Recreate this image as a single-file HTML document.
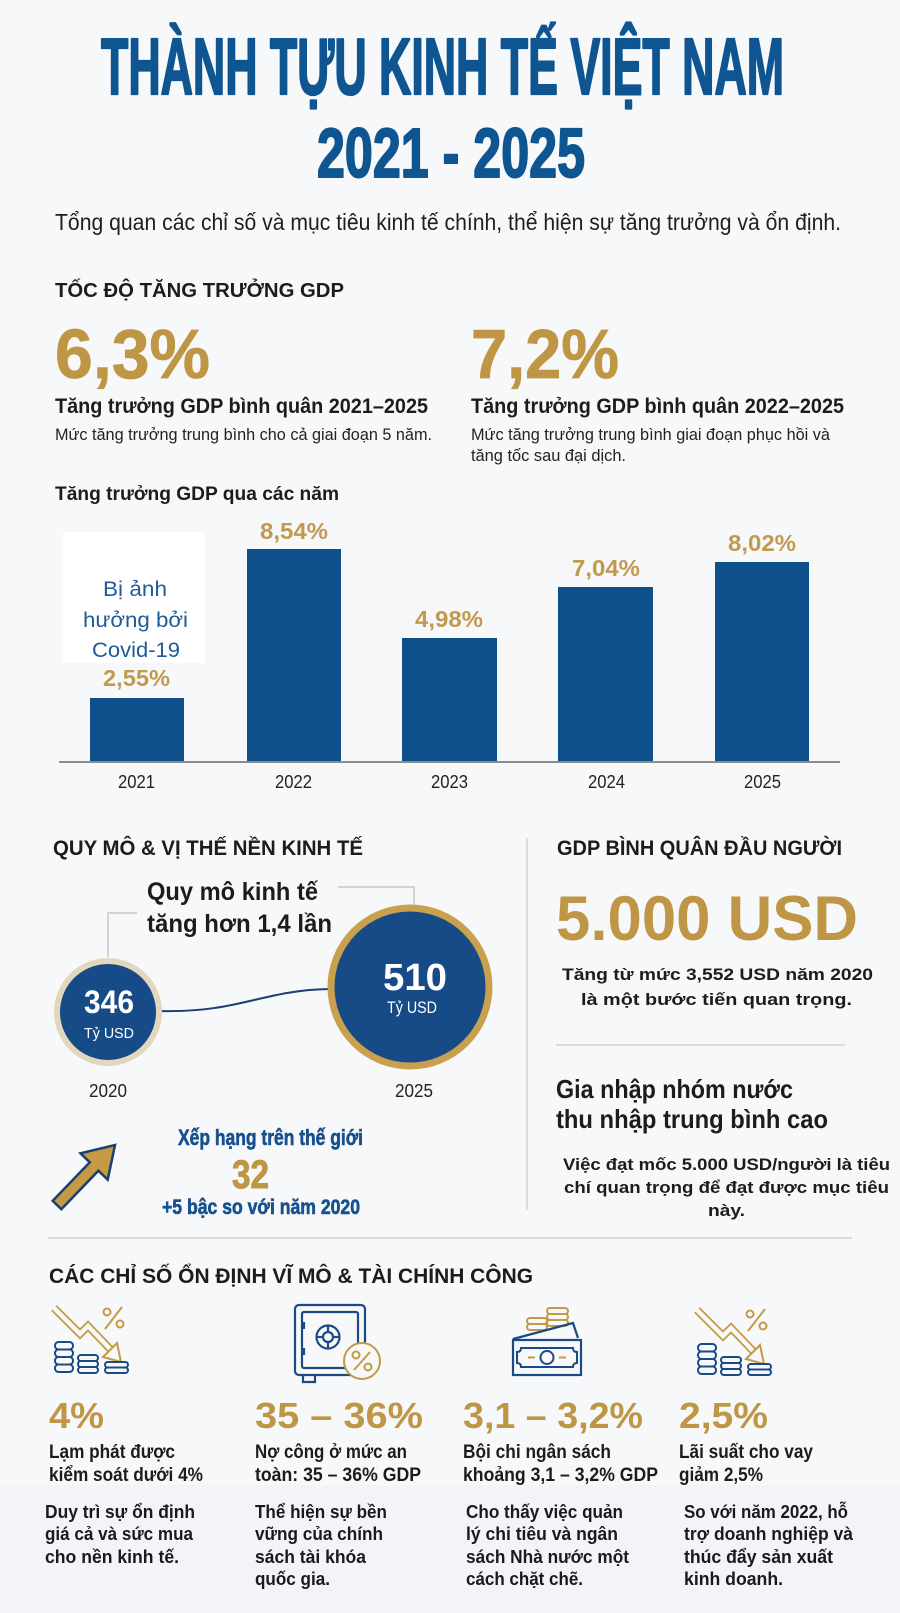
<!DOCTYPE html>
<html lang="vi">
<head>
<meta charset="utf-8">
<style>
html,body{margin:0;padding:0;background:#f7f8fa;}
body{width:900px;height:1613px;overflow:hidden;}
svg{display:block;}
text{font-family:"Liberation Sans","DejaVu Sans",sans-serif;}
</style>
</head>
<body>
<svg xmlns="http://www.w3.org/2000/svg" width="900" height="1613" viewBox="0 0 900 1613">
  <rect x="0" y="0" width="900" height="1613" fill="#f7f8fa"/>
  <rect x="0" y="1485" width="900" height="128" fill="#f2f4f8"/>

  <!-- Title -->
  <text x="101" y="94" font-size="80" font-weight="bold" fill="#0e5591" stroke="#0e5591" stroke-width="2.2" stroke-linejoin="round" textLength="683" lengthAdjust="spacingAndGlyphs">THÀNH TỰU KINH TẾ VIỆT NAM</text>
  <text x="317" y="177" font-size="70" font-weight="bold" fill="#0e5591" stroke="#0e5591" stroke-width="2" stroke-linejoin="round" textLength="268" lengthAdjust="spacingAndGlyphs">2021 - 2025</text>
  <text x="55" y="230" font-size="23" fill="#1e1e1e" textLength="786" lengthAdjust="spacingAndGlyphs">Tổng quan các chỉ số và mục tiêu kinh tế chính, thể hiện sự tăng trưởng và ổn định.</text>

  <!-- GDP growth section -->
  <text x="55" y="297" font-size="20" font-weight="bold" fill="#1c1c1c" textLength="289" lengthAdjust="spacingAndGlyphs">TỐC ĐỘ TĂNG TRƯỞNG GDP</text>
  <text x="55" y="378" font-size="70" font-weight="bold" fill="#bf9645" stroke="#bf9645" stroke-width="0.8" textLength="155" lengthAdjust="spacingAndGlyphs">6,3%</text>
  <text x="471" y="378" font-size="70" font-weight="bold" fill="#bf9645" stroke="#bf9645" stroke-width="0.8" textLength="148" lengthAdjust="spacingAndGlyphs">7,2%</text>
  <text x="55" y="413" font-size="21" font-weight="bold" fill="#1c1c1c" textLength="373" lengthAdjust="spacingAndGlyphs">Tăng trưởng GDP bình quân 2021–2025</text>
  <text x="471" y="413" font-size="21" font-weight="bold" fill="#1c1c1c" textLength="373" lengthAdjust="spacingAndGlyphs">Tăng trưởng GDP bình quân 2022–2025</text>
  <text x="55" y="440" font-size="17" fill="#222" textLength="377" lengthAdjust="spacingAndGlyphs">Mức tăng trưởng trung bình cho cả giai đoạn 5 năm.</text>
  <text x="471" y="440" font-size="17" fill="#222" textLength="359" lengthAdjust="spacingAndGlyphs">Mức tăng trưởng trung bình giai đoạn phục hồi và</text>
  <text x="471" y="461" font-size="17" fill="#222" textLength="155" lengthAdjust="spacingAndGlyphs">tăng tốc sau đại dịch.</text>

  <text x="55" y="500" font-size="19" font-weight="bold" fill="#1c1c1c" textLength="284" lengthAdjust="spacingAndGlyphs">Tăng trưởng GDP qua các năm</text>

  <!-- Chart -->
  <rect x="63" y="532" width="142" height="131" fill="#ffffff"/>
  <rect x="90" y="698" width="94" height="64" fill="#0f4f8a"/>
  <rect x="247" y="549" width="94" height="213" fill="#0f4f8a"/>
  <rect x="402" y="638" width="95" height="124" fill="#0f4f8a"/>
  <rect x="558" y="587" width="95" height="175" fill="#0f4f8a"/>
  <rect x="715" y="562" width="94" height="200" fill="#0f4f8a"/>
  <line x1="59" y1="762" x2="840" y2="762" stroke="#8c8c8c" stroke-width="2"/>

  <text x="103" y="686" font-size="23" font-weight="bold" fill="#c19a4e" textLength="67" lengthAdjust="spacingAndGlyphs">2,55%</text>
  <text x="260" y="539" font-size="23" font-weight="bold" fill="#c19a4e" textLength="68" lengthAdjust="spacingAndGlyphs">8,54%</text>
  <text x="415" y="627" font-size="23" font-weight="bold" fill="#c19a4e" textLength="68" lengthAdjust="spacingAndGlyphs">4,98%</text>
  <text x="572" y="576" font-size="23" font-weight="bold" fill="#c19a4e" textLength="68" lengthAdjust="spacingAndGlyphs">7,04%</text>
  <text x="728" y="551" font-size="23" font-weight="bold" fill="#c19a4e" textLength="68" lengthAdjust="spacingAndGlyphs">8,02%</text>

  <text x="103" y="596" font-size="21" fill="#1f5c96" textLength="64" lengthAdjust="spacingAndGlyphs">Bị ảnh</text>
  <text x="83" y="627" font-size="21" fill="#1f5c96" textLength="105" lengthAdjust="spacingAndGlyphs">hưởng bởi</text>
  <text x="92" y="657" font-size="21" fill="#1f5c96" textLength="88" lengthAdjust="spacingAndGlyphs">Covid-19</text>

  <text x="118" y="788" font-size="18" fill="#222" textLength="37" lengthAdjust="spacingAndGlyphs">2021</text>
  <text x="275" y="788" font-size="18" fill="#222" textLength="37" lengthAdjust="spacingAndGlyphs">2022</text>
  <text x="431" y="788" font-size="18" fill="#222" textLength="37" lengthAdjust="spacingAndGlyphs">2023</text>
  <text x="588" y="788" font-size="18" fill="#222" textLength="37" lengthAdjust="spacingAndGlyphs">2024</text>
  <text x="744" y="788" font-size="18" fill="#222" textLength="37" lengthAdjust="spacingAndGlyphs">2025</text>

  <!-- Scale section -->
  <text x="53" y="855" font-size="21" font-weight="bold" fill="#1c1c1c" textLength="310" lengthAdjust="spacingAndGlyphs">QUY MÔ &amp; VỊ THẾ NỀN KINH TẾ</text>
  <text x="557" y="855" font-size="21" font-weight="bold" fill="#1c1c1c" textLength="285" lengthAdjust="spacingAndGlyphs">GDP BÌNH QUÂN ĐẦU NGƯỜI</text>
  <line x1="527" y1="838" x2="527" y2="1210" stroke="#d2d4d8" stroke-width="1.5"/>

  <text x="147" y="900" font-size="25" font-weight="bold" fill="#1c1c1c" textLength="171" lengthAdjust="spacingAndGlyphs">Quy mô kinh tế</text>
  <text x="147" y="932" font-size="25" font-weight="bold" fill="#1c1c1c" textLength="185" lengthAdjust="spacingAndGlyphs">tăng hơn 1,4 lần</text>
  <polyline points="137,913 108,913 108,957" fill="none" stroke="#c8c8c8" stroke-width="1.5"/>
  <polyline points="338,887 414,887 414,905" fill="none" stroke="#c8c8c8" stroke-width="1.5"/>

  <path d="M160,1011 C240,1013 262,990 330,989" fill="none" stroke="#1b3f73" stroke-width="2"/>
  <circle cx="108" cy="1012" r="51" fill="#164b88" stroke="#e3d7bd" stroke-width="6"/>
  <text x="84" y="1013" font-size="32" font-weight="bold" fill="#ffffff" textLength="50" lengthAdjust="spacingAndGlyphs">346</text>
  <text x="84" y="1038" font-size="15" fill="#ffffff" textLength="50" lengthAdjust="spacingAndGlyphs">Tỷ USD</text>
  <circle cx="410" cy="987" r="79" fill="#164b88" stroke="#c9a04e" stroke-width="7"/>
  <text x="383" y="990" font-size="38" font-weight="bold" fill="#ffffff" textLength="64" lengthAdjust="spacingAndGlyphs">510</text>
  <text x="387" y="1013" font-size="17" fill="#ffffff" textLength="50" lengthAdjust="spacingAndGlyphs">Tỷ USD</text>
  <text x="89" y="1097" font-size="18" fill="#222" textLength="38" lengthAdjust="spacingAndGlyphs">2020</text>
  <text x="395" y="1097" font-size="18" fill="#222" textLength="38" lengthAdjust="spacingAndGlyphs">2025</text>

  <polygon points="61.3,1209.2 98.4,1170.7 107.7,1179.7 115,1145 80.5,1153.3 89.8,1162.3 52.7,1200.8" fill="#c49a45" stroke="#1c3f73" stroke-width="2.5" stroke-linejoin="miter"/>
  <text x="178" y="1145" font-size="22" font-weight="bold" fill="#17508e" stroke="#17508e" stroke-width="0.6" textLength="185" lengthAdjust="spacingAndGlyphs">Xếp hạng trên thế giới</text>
  <text x="232" y="1188" font-size="40" font-weight="bold" fill="#bf9645" stroke="#bf9645" stroke-width="1" textLength="37" lengthAdjust="spacingAndGlyphs">32</text>
  <text x="162" y="1214" font-size="21" font-weight="bold" fill="#17508e" stroke="#17508e" stroke-width="0.6" textLength="198" lengthAdjust="spacingAndGlyphs">+5 bậc so với năm 2020</text>

  <!-- GDP per capita -->
  <text x="556" y="940" font-size="63" font-weight="bold" fill="#bf9645" textLength="302" lengthAdjust="spacingAndGlyphs">5.000 USD</text>
  <text x="562" y="980" font-size="17" font-weight="bold" fill="#1c1c1c" textLength="311" lengthAdjust="spacingAndGlyphs">Tăng từ mức 3,552 USD năm 2020</text>
  <text x="581" y="1005" font-size="17" font-weight="bold" fill="#1c1c1c" textLength="271" lengthAdjust="spacingAndGlyphs">là một bước tiến quan trọng.</text>
  <line x1="556" y1="1045" x2="845" y2="1045" stroke="#cfd1d5" stroke-width="1.5"/>
  <text x="556" y="1098" font-size="26" font-weight="bold" fill="#1c1c1c" textLength="237" lengthAdjust="spacingAndGlyphs">Gia nhập nhóm nước</text>
  <text x="556" y="1128" font-size="26" font-weight="bold" fill="#1c1c1c" textLength="272" lengthAdjust="spacingAndGlyphs">thu nhập trung bình cao</text>
  <text x="563" y="1170" font-size="17" font-weight="bold" fill="#1c1c1c" textLength="327" lengthAdjust="spacingAndGlyphs">Việc đạt mốc 5.000 USD/người là tiêu</text>
  <text x="564" y="1193" font-size="17" font-weight="bold" fill="#1c1c1c" textLength="325" lengthAdjust="spacingAndGlyphs">chí quan trọng để đạt được mục tiêu</text>
  <text x="708" y="1216" font-size="17" font-weight="bold" fill="#1c1c1c" textLength="37" lengthAdjust="spacingAndGlyphs">này.</text>

  <line x1="48" y1="1238" x2="852" y2="1238" stroke="#cfd1d5" stroke-width="1.5"/>

  <!-- Macro section -->
  <text x="49" y="1283" font-size="21" font-weight="bold" fill="#1c1c1c" textLength="484" lengthAdjust="spacingAndGlyphs">CÁC CHỈ SỐ ỔN ĐỊNH VĨ MÔ &amp; TÀI CHÍNH CÔNG</text>

  <!-- Icon 1 -->
  <g>
    <path d="M54,1308 L80,1334 L88,1326 L112,1351" fill="none" stroke="#c49a45" stroke-width="8" stroke-linejoin="miter"/>
    <path d="M54,1308 L80,1334 L88,1326 L112,1351" fill="none" stroke="#f7f8fa" stroke-width="4.5" stroke-linejoin="miter"/>
    <polygon points="103,1357 121,1362 117,1343" fill="#f7f8fa" stroke="#c49a45" stroke-width="2"/>
    <circle cx="107" cy="1312" r="3.5" fill="none" stroke="#c49a45" stroke-width="2"/>
    <circle cx="120" cy="1324" r="3.5" fill="none" stroke="#c49a45" stroke-width="2"/>
    <line x1="122" y1="1307" x2="105" y2="1329" stroke="#c49a45" stroke-width="2"/>
    <g fill="#f7f8fa" stroke="#1c4a85" stroke-width="2">
      <rect x="55" y="1342" width="18" height="7.5" rx="3.5"/>
      <rect x="55" y="1349.5" width="18" height="7.5" rx="3.5"/>
      <rect x="55" y="1357" width="18" height="7.5" rx="3.5"/>
      <rect x="55" y="1364.5" width="18" height="7.5" rx="3.5"/>
      <rect x="78" y="1355" width="20" height="6" rx="3"/>
      <rect x="78" y="1361" width="20" height="6" rx="3"/>
      <rect x="78" y="1367" width="20" height="6" rx="3"/>
      <rect x="105" y="1362" width="23" height="5.5" rx="2.75"/>
      <rect x="105" y="1367.5" width="23" height="5.5" rx="2.75"/>
    </g>
  </g>

  <!-- Icon 2: safe -->
  <g fill="none" stroke="#1c4a85" stroke-width="2.2">
    <rect x="295" y="1305" width="70" height="70" rx="4"/>
    <rect x="302" y="1312" width="56" height="56" rx="2"/>
    <circle cx="328" cy="1337" r="11.5"/>
    <circle cx="328" cy="1337" r="5"/>
    <line x1="328" y1="1325.5" x2="328" y2="1332"/>
    <line x1="328" y1="1342" x2="328" y2="1348.5"/>
    <line x1="316.5" y1="1337" x2="323" y2="1337"/>
    <line x1="333" y1="1337" x2="339.5" y2="1337"/>
    <line x1="304" y1="1322" x2="304" y2="1329"/>
    <line x1="304" y1="1348" x2="304" y2="1355"/>
    <path d="M303,1375 L303,1382 L315,1382 L315,1375"/>
  </g>
  <circle cx="362" cy="1361" r="18" fill="#f7f8fa" stroke="#c49a45" stroke-width="2"/>
  <circle cx="356" cy="1355" r="3.5" fill="none" stroke="#c49a45" stroke-width="2"/>
  <circle cx="368" cy="1367" r="3.5" fill="none" stroke="#c49a45" stroke-width="2"/>
  <line x1="370" y1="1352" x2="354" y2="1370" stroke="#c49a45" stroke-width="2"/>

  <!-- Icon 3: money -->
  <g fill="#f7f8fa" stroke="#c49a45" stroke-width="2">
    <rect x="527" y="1318" width="20" height="6" rx="3"/>
    <rect x="527" y="1324" width="20" height="6" rx="3"/>
    <rect x="547" y="1308" width="21" height="6" rx="3"/>
    <rect x="547" y="1314" width="21" height="6" rx="3"/>
    <rect x="547" y="1320" width="21" height="6" rx="3"/>
  </g>
  <path d="M513,1339 L573,1323 L578,1338" fill="none" stroke="#1c4a85" stroke-width="2.2"/>
  <rect x="513" y="1340" width="68" height="35" fill="#f7f8fa" stroke="#1c4a85" stroke-width="2.2"/>
  <path d="M521,1348 L573,1348 Q573,1352 577,1352 L577,1363 Q573,1363 573,1367 L521,1367 Q521,1363 517,1363 L517,1352 Q521,1352 521,1348 Z" fill="none" stroke="#1c4a85" stroke-width="2"/>
  <circle cx="547" cy="1357.5" r="6.5" fill="none" stroke="#1c4a85" stroke-width="2"/>
  <line x1="528" y1="1357.5" x2="535" y2="1357.5" stroke="#c49a45" stroke-width="2"/>
  <line x1="559" y1="1357.5" x2="566" y2="1357.5" stroke="#c49a45" stroke-width="2"/>

  <!-- Icon 4 -->
  <g transform="translate(643,2)">
    <path d="M54,1308 L80,1334 L88,1326 L112,1351" fill="none" stroke="#c49a45" stroke-width="8" stroke-linejoin="miter"/>
    <path d="M54,1308 L80,1334 L88,1326 L112,1351" fill="none" stroke="#f7f8fa" stroke-width="4.5" stroke-linejoin="miter"/>
    <polygon points="103,1357 121,1362 117,1343" fill="#f7f8fa" stroke="#c49a45" stroke-width="2"/>
    <circle cx="107" cy="1312" r="3.5" fill="none" stroke="#c49a45" stroke-width="2"/>
    <circle cx="120" cy="1324" r="3.5" fill="none" stroke="#c49a45" stroke-width="2"/>
    <line x1="122" y1="1307" x2="105" y2="1329" stroke="#c49a45" stroke-width="2"/>
    <g fill="#f7f8fa" stroke="#1c4a85" stroke-width="2">
      <rect x="55" y="1342" width="18" height="7.5" rx="3.5"/>
      <rect x="55" y="1349.5" width="18" height="7.5" rx="3.5"/>
      <rect x="55" y="1357" width="18" height="7.5" rx="3.5"/>
      <rect x="55" y="1364.5" width="18" height="7.5" rx="3.5"/>
      <rect x="78" y="1355" width="20" height="6" rx="3"/>
      <rect x="78" y="1361" width="20" height="6" rx="3"/>
      <rect x="78" y="1367" width="20" height="6" rx="3"/>
      <rect x="105" y="1362" width="23" height="5.5" rx="2.75"/>
      <rect x="105" y="1367.5" width="23" height="5.5" rx="2.75"/>
    </g>
  </g>

  <!-- Big numbers -->
  <text x="49" y="1428" font-size="36" font-weight="bold" fill="#bf9645" textLength="55" lengthAdjust="spacingAndGlyphs">4%</text>
  <text x="255" y="1428" font-size="36" font-weight="bold" fill="#bf9645" textLength="168" lengthAdjust="spacingAndGlyphs">35 – 36%</text>
  <text x="463" y="1428" font-size="36" font-weight="bold" fill="#bf9645" textLength="180" lengthAdjust="spacingAndGlyphs">3,1 – 3,2%</text>
  <text x="679" y="1428" font-size="36" font-weight="bold" fill="#bf9645" textLength="89" lengthAdjust="spacingAndGlyphs">2,5%</text>

  <!-- Labels -->
  <g font-size="19" font-weight="bold" fill="#1c1c1c">
    <text x="49" y="1458" textLength="126" lengthAdjust="spacingAndGlyphs">Lạm phát được</text>
    <text x="49" y="1481" textLength="154" lengthAdjust="spacingAndGlyphs">kiểm soát dưới 4%</text>
    <text x="255" y="1458" textLength="152" lengthAdjust="spacingAndGlyphs">Nợ công ở mức an</text>
    <text x="255" y="1481" textLength="166" lengthAdjust="spacingAndGlyphs">toàn: 35 – 36% GDP</text>
    <text x="463" y="1458" textLength="148" lengthAdjust="spacingAndGlyphs">Bội chi ngân sách</text>
    <text x="463" y="1481" textLength="195" lengthAdjust="spacingAndGlyphs">khoảng 3,1 – 3,2% GDP</text>
    <text x="679" y="1458" textLength="134" lengthAdjust="spacingAndGlyphs">Lãi suất cho vay</text>
    <text x="679" y="1481" textLength="84" lengthAdjust="spacingAndGlyphs">giảm 2,5%</text>
  </g>

  <!-- Descriptions -->
  <g font-size="18" font-weight="bold" fill="#1a1a1a">
    <text x="45" y="1518" textLength="150" lengthAdjust="spacingAndGlyphs">Duy trì sự ổn định</text>
    <text x="45" y="1540" textLength="148" lengthAdjust="spacingAndGlyphs">giá cả và sức mua</text>
    <text x="45" y="1563" textLength="134" lengthAdjust="spacingAndGlyphs">cho nền kinh tế.</text>

    <text x="255" y="1518" textLength="132" lengthAdjust="spacingAndGlyphs">Thể hiện sự bền</text>
    <text x="255" y="1540" textLength="128" lengthAdjust="spacingAndGlyphs">vững của chính</text>
    <text x="255" y="1563" textLength="111" lengthAdjust="spacingAndGlyphs">sách tài khóa</text>
    <text x="255" y="1585" textLength="75" lengthAdjust="spacingAndGlyphs">quốc gia.</text>

    <text x="466" y="1518" textLength="157" lengthAdjust="spacingAndGlyphs">Cho thấy việc quản</text>
    <text x="466" y="1540" textLength="152" lengthAdjust="spacingAndGlyphs">lý chi tiêu và ngân</text>
    <text x="466" y="1563" textLength="163" lengthAdjust="spacingAndGlyphs">sách Nhà nước một</text>
    <text x="466" y="1585" textLength="117" lengthAdjust="spacingAndGlyphs">cách chặt chẽ.</text>

    <text x="684" y="1518" textLength="164" lengthAdjust="spacingAndGlyphs">So với năm 2022, hỗ</text>
    <text x="684" y="1540" textLength="169" lengthAdjust="spacingAndGlyphs">trợ doanh nghiệp và</text>
    <text x="684" y="1563" textLength="149" lengthAdjust="spacingAndGlyphs">thúc đẩy sản xuất</text>
    <text x="684" y="1585" textLength="99" lengthAdjust="spacingAndGlyphs">kinh doanh.</text>
  </g>
</svg>
</body>
</html>
